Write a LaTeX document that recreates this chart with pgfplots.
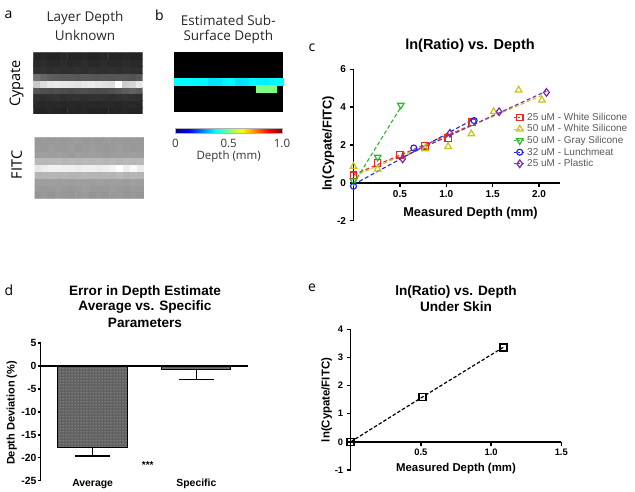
\documentclass[border=0pt]{standalone}
\usepackage{pgfplots}
\pgfplotsset{compat=1.18}
\usepackage{pgfplotstable}
\usetikzlibrary{patterns}
\usepackage{fontspec}
\setmainfont{Liberation Sans}
\newfontfamily\osans{Open Sans}
\newcommand{\fs}[1]{\fontsize{#1}{#1}\selectfont}
\definecolor{cred}{RGB}{235,40,40}
\definecolor{cyel}{RGB}{200,195,25}
\definecolor{cgrn}{RGB}{40,190,40}
\definecolor{cblu}{RGB}{30,40,230}
\definecolor{cpur}{RGB}{125,40,170}

\pgfplotstableread[row sep=\\]{
x y c\\
0 0 0.14\\1 0 0.14\\2 0 0.15\\3 0 0.14\\4 0 0.13\\5 0 0.14\\6 0 0.14\\7 0 0.15\\8 0 0.14\\9 0 0.14\\10 0 0.13\\11 0 0.14\\12 0 0.14\\13 0 0.15\\14 0 0.14\\15 0 0.14\\
0 1 0.16\\1 1 0.15\\2 1 0.16\\3 1 0.16\\4 1 0.15\\5 1 0.16\\6 1 0.15\\7 1 0.16\\8 1 0.16\\9 1 0.15\\10 1 0.16\\11 1 0.16\\12 1 0.15\\13 1 0.16\\14 1 0.16\\15 1 0.15\\
0 2 0.19\\1 2 0.18\\2 2 0.19\\3 2 0.20\\4 2 0.18\\5 2 0.19\\6 2 0.19\\7 2 0.18\\8 2 0.19\\9 2 0.20\\10 2 0.19\\11 2 0.18\\12 2 0.19\\13 2 0.20\\14 2 0.19\\15 2 0.18\\
0 3 0.33\\1 3 0.31\\2 3 0.30\\3 3 0.31\\4 3 0.30\\5 3 0.29\\6 3 0.30\\7 3 0.31\\8 3 0.30\\9 3 0.29\\10 3 0.30\\11 3 0.31\\12 3 0.33\\13 3 0.36\\14 3 0.38\\15 3 0.36\\
0 4 0.78\\1 4 0.86\\2 4 0.90\\3 4 0.91\\4 4 0.90\\5 4 0.89\\6 4 0.88\\7 4 0.90\\8 4 0.91\\9 4 0.89\\10 4 0.88\\11 4 0.87\\12 4 1.00\\13 4 0.80\\14 4 0.83\\15 4 0.90\\
0 5 0.44\\1 5 0.40\\2 5 0.37\\3 5 0.36\\4 5 0.35\\5 5 0.35\\6 5 0.34\\7 5 0.35\\8 5 0.34\\9 5 0.33\\10 5 0.34\\11 5 0.33\\12 5 0.34\\13 5 0.33\\14 5 0.32\\15 5 0.34\\
0 6 0.18\\1 6 0.19\\2 6 0.18\\3 6 0.19\\4 6 0.18\\5 6 0.18\\6 6 0.19\\7 6 0.18\\8 6 0.19\\9 6 0.18\\10 6 0.18\\11 6 0.19\\12 6 0.18\\13 6 0.19\\14 6 0.18\\15 6 0.18\\
0 7 0.16\\1 7 0.17\\2 7 0.16\\3 7 0.16\\4 7 0.17\\5 7 0.16\\6 7 0.16\\7 7 0.17\\8 7 0.16\\9 7 0.16\\10 7 0.17\\11 7 0.16\\12 7 0.16\\13 7 0.17\\14 7 0.16\\15 7 0.16\\
0 8 0.14\\1 8 0.15\\2 8 0.14\\3 8 0.14\\4 8 0.15\\5 8 0.14\\6 8 0.14\\7 8 0.15\\8 8 0.14\\9 8 0.14\\10 8 0.15\\11 8 0.14\\12 8 0.14\\13 8 0.15\\14 8 0.14\\15 8 0.14\\
}\cypate

\pgfplotstableread[row sep=\\]{
x y c\\
0 0 0.58\\1 0 0.59\\2 0 0.58\\3 0 0.60\\4 0 0.59\\5 0 0.58\\6 0 0.59\\7 0 0.60\\8 0 0.58\\9 0 0.59\\10 0 0.58\\11 0 0.59\\12 0 0.60\\13 0 0.58\\14 0 0.59\\15 0 0.58\\
0 1 0.60\\1 1 0.59\\2 1 0.60\\3 1 0.61\\4 1 0.60\\5 1 0.59\\6 1 0.60\\7 1 0.61\\8 1 0.60\\9 1 0.59\\10 1 0.60\\11 1 0.61\\12 1 0.60\\13 1 0.59\\14 1 0.60\\15 1 0.60\\
0 2 0.62\\1 2 0.61\\2 2 0.62\\3 2 0.61\\4 2 0.62\\5 2 0.61\\6 2 0.62\\7 2 0.62\\8 2 0.61\\9 2 0.62\\10 2 0.61\\11 2 0.62\\12 2 0.62\\13 2 0.61\\14 2 0.62\\15 2 0.61\\
0 3 0.70\\1 3 0.70\\2 3 0.71\\3 3 0.70\\4 3 0.71\\5 3 0.70\\6 3 0.70\\7 3 0.71\\8 3 0.70\\9 3 0.70\\10 3 0.71\\11 3 0.70\\12 3 0.72\\13 3 0.70\\14 3 0.71\\15 3 0.70\\
0 4 0.90\\1 4 0.92\\2 4 0.94\\3 4 0.94\\4 4 0.93\\5 4 0.93\\6 4 0.92\\7 4 0.93\\8 4 0.94\\9 4 0.92\\10 4 0.93\\11 4 0.95\\12 4 1.00\\13 4 0.93\\14 4 0.97\\15 4 0.92\\
0 5 0.72\\1 5 0.71\\2 5 0.72\\3 5 0.72\\4 5 0.71\\5 5 0.72\\6 5 0.71\\7 5 0.72\\8 5 0.71\\9 5 0.72\\10 5 0.71\\11 5 0.72\\12 5 0.71\\13 5 0.72\\14 5 0.71\\15 5 0.72\\
0 6 0.61\\1 6 0.62\\2 6 0.61\\3 6 0.62\\4 6 0.61\\5 6 0.60\\6 6 0.62\\7 6 0.61\\8 6 0.62\\9 6 0.61\\10 6 0.60\\11 6 0.61\\12 6 0.62\\13 6 0.61\\14 6 0.62\\15 6 0.61\\
0 7 0.60\\1 7 0.59\\2 7 0.61\\3 7 0.60\\4 7 0.60\\5 7 0.61\\6 7 0.59\\7 7 0.60\\8 7 0.61\\9 7 0.60\\10 7 0.59\\11 7 0.60\\12 7 0.61\\13 7 0.60\\14 7 0.59\\15 7 0.60\\
0 8 0.59\\1 8 0.60\\2 8 0.59\\3 8 0.60\\4 8 0.59\\5 8 0.60\\6 8 0.60\\7 8 0.59\\8 8 0.60\\9 8 0.59\\10 8 0.60\\11 8 0.59\\12 8 0.60\\13 8 0.59\\14 8 0.60\\15 8 0.59\\
}\fitc

\pgfplotstableread[row sep=\\]{
x y c\\
0 4 0.375\\1 4 0.375\\2 4 0.375\\3 4 0.37\\4 4 0.37\\5 4 0.35\\6 4 0.35\\7 4 0.365\\8 4 0.37\\9 4 0.345\\10 4 0.35\\11 4 0.37\\12 4 0.365\\13 4 0.36\\14 4 0.37\\15 4 0.375\\
12 3 0.50\\13 3 0.50\\14 3 0.50\\
}\depth

\pgfplotsset{
  dleg/.style={legend image code/.code={%
    \draw[##1,dash pattern=on 2.5pt off 1.5pt,line width=1pt] (0pt,0pt) -- (12pt,0pt);
    \draw[##1] plot coordinates {(6pt,0pt)};}},
  fitline/.style={line width=1.1pt, dash pattern=on 4pt off 2.5pt, forget plot},
}

\begin{document}
\begin{tikzpicture}
\useasboundingbox (0,0) rectangle (635pt,-492pt);

% ---------- panel a ----------
\begin{axis}[at={(33.3pt,-114pt)}, anchor=south west, scale only axis,
  width=109.4pt, height=61.3pt, hide axis, enlargelimits=false,
  xmin=-0.5, xmax=15.5, ymin=-0.5, ymax=8.5,
  colormap/blackwhite, point meta min=0, point meta max=1]
\addplot[matrix plot*, mesh/cols=16, point meta=explicit] table[x=x,y=y,meta=c] {\cypate};
\end{axis}
\begin{axis}[at={(34.5pt,-198.3pt)}, anchor=south west, scale only axis,
  width=109.4pt, height=61pt, hide axis, enlargelimits=false,
  xmin=-0.5, xmax=15.5, ymin=-0.5, ymax=8.5,
  colormap/blackwhite, point meta min=0, point meta max=1]
\addplot[matrix plot*, mesh/cols=16, point meta=explicit] table[x=x,y=y,meta=c] {\fitc};
\end{axis}

% ---------- panel b ----------
\begin{axis}[at={(174pt,-111.7pt)}, anchor=south west, scale only axis,
  width=109.3pt, height=60pt, enlargelimits=false,
  xmin=-0.5, xmax=15.5, ymin=-0.5, ymax=8.5,
  axis line style={draw=none}, ticks=none,
  axis background/.style={fill=black},
  colormap/jet, point meta min=0, point meta max=1,
  colorbar horizontal,
  colorbar style={at={(parent axis.south)}, anchor=north, yshift=-8.3pt,
    scale only axis, width=106.7pt, height=5pt,
    xtick={0,0.5,1}, xticklabels={0,0.5,1.0}, major tick length=0pt,
    xticklabel style={font=\osans\fs{11.5}, text=black!80, yshift=-2pt},
    xlabel={Depth (mm)}, xlabel style={font=\osans\fs{11.5}, text=black!80, yshift=4pt},
    axis line style={gray!60, line width=0.3pt},
    /pgf/number format/assume math mode=true}]
\addplot[scatter, only marks, mark=square*, mark size=3.45pt, point meta=explicit,
  scatter/use mapped color={draw=mapped color, fill=mapped color}]
  table[x=x,y=y,meta=c] {\depth};
\end{axis}

% ---------- panel c ----------
\begin{axis}[at={(353.5pt,-220.7pt)}, anchor=south west, scale only axis,
  width=206.9pt, height=151.4pt,
  xmin=0, xmax=2.23, ymin=-2, ymax=6,
  axis lines=middle, axis line style={-, line width=1.4pt},
  tick style={black, line width=1.4pt}, tick align=outside, major tick length=4pt,
  xtick={0.5,1,1.5,2}, xticklabels={0.5,1.0,1.5,2.0}, ytick={-2,0,2,4,6},
  hide obscured x ticks=false, hide obscured y ticks=false,
  ticklabel style={font=\bfseries\fs{10}},
  /pgf/number format/assume math mode=true,
  clip=false,
  legend style={at={(0.771,0.718)}, anchor=north west, draw=none, fill=none,
    font=\fs{10}, text=black!65, row sep=0.8pt, inner sep=0pt, nodes={inner sep=1pt}},
  legend cell align=left]
\addplot[cred, fitline] coordinates {(0,0.43) (1.28,3.07)};
\addplot[cyel, fitline] coordinates {(0,0.34) (2.03,4.62)};
\addplot[cgrn, fitline] coordinates {(0,-0.05) (0.51,4.0)};
\addplot[cblu, fitline] coordinates {(0,-0.09) (1.30,3.38)};
\addplot[cpur, fitline] coordinates {(0.53,1.36) (2.08,4.85)};

\addplot[cred, only marks, mark=square, mark size=3.2pt, mark options={solid, line width=1.2pt}, dleg]
  coordinates {(0,0.40) (0.26,1.05) (0.50,1.48) (0.77,1.96) (1.02,2.36) (1.28,3.20)};
\addlegendentry{25 uM - White Silicone}
\addplot[cyel, only marks, mark=triangle, mark size=3.8pt, mark options={solid, line width=1.2pt}, dleg]
  coordinates {(0,0.87) (0.26,0.73) (0.77,1.80) (1.02,1.92) (1.27,2.59) (1.51,3.76) (1.78,4.90) (2.03,4.37)};
\addlegendentry{50 uM - White Silicone}
\addplot[cgrn, only marks, mark=triangle, mark size=3.8pt, mark options={solid, rotate=180, line width=1.2pt}, dleg]
  coordinates {(0,0.10) (0.26,1.36) (0.51,4.11)};
\addlegendentry{50 uM - Gray Silicone}
\addplot[cblu, only marks, mark=o, mark size=3pt, mark options={solid, line width=1.2pt}, dleg]
  coordinates {(0,-0.18) (0.65,1.84) (1.30,3.29)};
\addlegendentry{32 uM - Lunchmeat}
\addplot[cpur, only marks, mark=diamond, mark size=3.8pt, mark options={solid, line width=1.2pt}, dleg]
  coordinates {(0.53,1.27) (1.04,2.62) (1.57,3.76) (2.08,4.78)};
\addlegendentry{25 uM - Plastic}
\end{axis}

% ---------- panel d ----------
\begin{axis}[at={(40.7pt,-480.7pt)}, anchor=south west, scale only axis,
  width=207.6pt, height=137.6pt,
  xmin=0, xmax=6, ymin=-25, ymax=5,
  axis x line=bottom, axis y line=left, axis line style={-, line width=1.4pt},
  x axis line style={draw=none},
  xtick={1.5,4.5}, xticklabels={Average,Specific},
  xtick style={draw=none},
  xticklabel style={anchor=center, font=\bfseries\fs{10.4}},
  ytick={-25,-20,-15,-10,-5,0,5},
  ytick style={black, line width=1.4pt}, tick align=outside, major tick length=3pt,
  yticklabel style={font=\bfseries\fs{10.4}, inner sep=1pt},
  /pgf/number format/assume math mode=true,
  clip=false]
\addplot[ybar, bar width=2, draw=black, line width=1pt, fill=black!62,
  postaction={pattern=dots, pattern color=white!80!black},
  error bars/.cd, y dir=minus, y explicit,
  error bar style={line width=1.4pt, black},
  error mark options={black, rotate=90, line width=1.4pt, mark size=17.3pt}]
  coordinates {(1.5,-17.8) +- (0,1.8) (4.5,-0.73) +- (0,2.15)};
\addplot[black, line width=1.4pt, forget plot] coordinates {(0,0) (6,0)};
\end{axis}

% ---------- panel e ----------
\begin{axis}[at={(350.7pt,-470pt)}, anchor=south west, scale only axis,
  width=210.6pt, height=140.7pt,
  xmin=0, xmax=1.5, ymin=-1, ymax=4,
  axis lines=middle, axis line style={-, line width=1.4pt},
  tick style={black, line width=1.4pt}, tick align=outside, major tick length=4pt,
  xtick={0.5,1,1.5}, xticklabels={0.5,1.0,1.5}, ytick={-1,0,1,2,3,4},
  hide obscured x ticks=false, hide obscured y ticks=false,
  ticklabel style={font=\bfseries\fs{9.4}},
  /pgf/number format/assume math mode=true,
  clip=false]
\addplot[black, line width=1.2pt, dash pattern=on 3.5pt off 2pt, mark=square, mark size=3.5pt,
  mark options={solid, line width=1.5pt}]
  coordinates {(0,0) (0.513,1.60) (1.087,3.36)};
\end{axis}

% ---------- texts ----------
\begin{scope}[every node/.style={inner sep=0pt, anchor=center}]
\node[font=\osans\fs{14}] at (8.5pt,-15pt) {a};
\node[font=\osans\fs{14}] at (159.5pt,-15pt) {b};
\node[font=\osans\fs{14}] at (312pt,-48pt) {c};
\node[font=\osans\fs{14}] at (9pt,-290pt) {d};
\node[font=\osans\fs{14}] at (312pt,-288pt) {e};

\node[font=\osans\fs{13.5}, text=black!85] at (85pt,-18.3pt) {Layer Depth};
\node[font=\osans\fs{13.5}, text=black!85] at (85pt,-35pt) {Unknown};
\node[font=\osans\fs{13.5}, text=black!85] at (228.3pt,-20pt) {Estimated Sub-};
\node[font=\osans\fs{13.5}, text=black!85] at (228.3pt,-36.7pt) {Surface Depth};
\node[font=\osans\fs{14.5}, rotate=90] at (16.7pt,-83.3pt) {Cypate};
\node[font=\osans\fs{14.5}, rotate=90] at (16.7pt,-165pt) {FITC};

\node[font=\bfseries\fs{14.5}] at (470pt,-46pt) {ln(Ratio) vs. Depth};
\node[font=\bfseries\fs{12.8}] at (470.5pt,-212.7pt) {Measured Depth (mm)};
\node[font=\bfseries\fs{12.8}, rotate=90] at (328.3pt,-143.3pt) {ln(Cypate/FITC)};

\node[font=\bfseries\fs{13.6}] at (145pt,-291.6pt) {Error in Depth Estimate};
\node[font=\bfseries\fs{13.6}] at (145pt,-307pt) {Average vs. Specific};
\node[font=\bfseries\fs{13.6}] at (145pt,-322.5pt) {Parameters};
\node[font=\bfseries\fs{11}, rotate=90] at (11.7pt,-413pt) {Depth Deviation (\%)};
\node[font=\bfseries\fs{10}] at (147.7pt,-465pt) {***};

\node[font=\bfseries\fs{13.6}] at (456pt,-291.7pt) {ln(Ratio) vs. Depth};
\node[font=\bfseries\fs{13.6}] at (456pt,-306.7pt) {Under Skin};
\node[font=\bfseries\fs{11.4}] at (456pt,-468.3pt) {Measured Depth (mm)};
\node[font=\bfseries\fs{11.4}, rotate=90] at (326.7pt,-400pt) {ln(Cypate/FITC)};
\end{scope}
\end{tikzpicture}
\end{document}
